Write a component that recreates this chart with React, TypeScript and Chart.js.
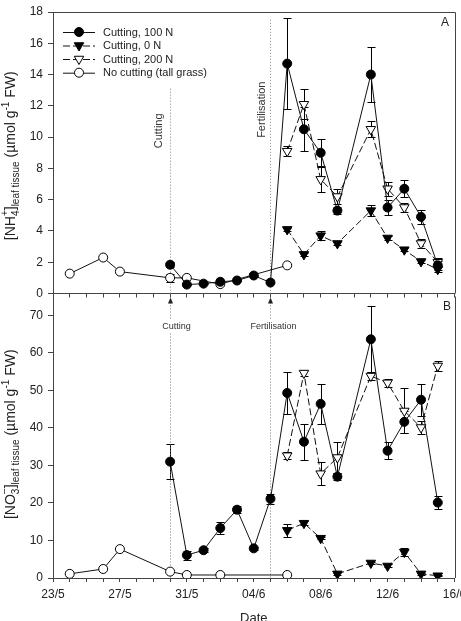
import React, { useEffect, useRef } from 'react';
import { Chart, registerables } from 'chart.js';
Chart.register(...registerables);

const FONT = "'Liberation Sans', Arial, Helvetica, sans-serif";
const AXIS = '#444';
const TXT = '#222';

// x axis: days since 23/5
const xTickLabels = ['23/5', '27/5', '31/5', '04/6', '08/6', '12/6', '16/6'];
const cuttingDay = 7;
const fertDay = 13;

const daysCut = [7, 8, 9, 10, 11, 12, 13, 14, 15, 16, 17, 19, 20, 21, 22, 23];
const daysFert = [14, 15, 16, 17, 19, 20, 21, 22, 23];
const daysTall = [1, 3, 4, 7, 8, 10, 14];

// Panel A: NH4+
const nh4Cut100 = [1.84, 0.57, 0.63, 0.75, 0.83, 1.15, 0.7, 14.7, 10.5, 9.0, 5.3, 14.0, 5.5, 6.7, 4.9, 1.8];
const nh4Cut100Err = [0.15, 0.05, 0.05, 0.05, 0.05, 0.05, 0.05, 2.9, 1.4, 0.85, 0.2, 1.75, 0.5, 0.55, 0.45, 0.3];
const nh4Cut0 = [4.1, 2.5, 3.7, 3.2, 5.3, 3.55, 2.8, 2.05, 1.55];
const nh4Cut0Err = [0.1, 0.1, 0.3, 0.1, 0.35, 0.1, 0.1, 0.1, 0.2];
const nh4Cut200 = [9.1, 12.1, 7.3, 6.2, 10.5, 6.7, 5.5, 3.2, 2.0];
const nh4Cut200Err = [0.3, 0.95, 0.8, 0.5, 0.5, 0.45, 0.3, 0.3, 0.3];
const nh4Tall = [1.27, 2.3, 1.4, 1.0, 1.0, 0.6, 1.8];
const nh4TallErr = [0, 0, 0, 0.25, 0, 0, 0];

// Panel B: NO3-
const no3Cut100 = [31.0, 6.1, 7.4, 13.3, 18.2, 7.9, 21.1, 49.3, 36.3, 46.4, 27.0, 63.6, 33.9, 41.6, 47.5, 20.1];
const no3Cut100Err = [4.7, 1.2, 0.6, 1.5, 1.0, 0.4, 1.3, 5.7, 4.8, 5.4, 1.0, 8.8, 2.3, 3.0, 4.3, 1.8];
const no3Cut0 = [12.7, 14.6, 10.6, 1.1, 4.0, 3.2, 6.9, 1.1, 0.6];
const no3Cut0Err = [1.8, 0.5, 0.3, 0.3, 0.3, 0.4, 1.0, 0.3, 0.2];
const no3Cut200 = [32.6, 54.6, 27.8, 32.1, 53.8, 52.0, 44.5, 40.1, 56.5];
const no3Cut200Err = [1.0, 0.8, 3.0, 4.2, 1.0, 1.0, 6.0, 1.7, 1.3];
const no3Tall = [1.1, 2.4, 7.7, 1.7, 0.8, 0.8, 0.8];

const seriesNames = ['Cutting, 100 N', 'Cutting, 0 N', 'Cutting, 200 N', 'No cutting (tall grass)'];

type Style = { fill: string; shape: 'circle' | 'triangle'; dash: number[] };
const styles: Style[] = [
  { fill: '#000', shape: 'circle', dash: [] },
  { fill: '#000', shape: 'triangle', dash: [7, 3] },
  { fill: '#fff', shape: 'triangle', dash: [7, 3] },
  { fill: '#fff', shape: 'circle', dash: [] },
];

function mk(i: number, days: number[], vals: number[], errs?: number[]) {
  const s = styles[i];
  return {
    label: seriesNames[i],
    data: days.map((d, k) => ({ x: d, y: vals[k] })),
    errors: errs,
    borderColor: '#111',
    borderWidth: 1,
    borderDash: s.dash,
    backgroundColor: s.fill,
    pointBackgroundColor: s.fill,
    pointBorderColor: '#000',
    pointBorderWidth: 1,
    pointStyle: s.shape,
    pointRotation: s.shape === 'triangle' ? 180 : 0,
    pointRadius: s.shape === 'triangle' ? 5.5 : 4.5,
    tension: 0,
    fill: false,
  };
}

const errorBars = {
  id: 'errorBars',
  beforeDatasetsDraw(chart: any) {
    const { ctx } = chart;
    const x = chart.scales.x, y = chart.scales.y;
    ctx.save();
    ctx.strokeStyle = '#000';
    ctx.lineWidth = 1;
    ctx.setLineDash([]);
    chart.data.datasets.forEach((ds: any) => {
      if (!ds.errors) return;
      ds.data.forEach((p: any, i: number) => {
        const e = ds.errors[i];
        if (!e) return;
        const px = Math.round(x.getPixelForValue(p.x)) + 0.5;
        const y1 = Math.round(y.getPixelForValue(p.y + e)) + 0.5;
        const y2 = Math.round(y.getPixelForValue(p.y - e)) + 0.5;
        ctx.beginPath();
        ctx.moveTo(px, y1); ctx.lineTo(px, y2);
        ctx.moveTo(px - 4, y1); ctx.lineTo(px + 4, y1);
        ctx.moveTo(px - 4, y2); ctx.lineTo(px + 4, y2);
        ctx.stroke();
      });
    });
    ctx.restore();
  },
};

type Seg = { t: string; k: 'n' | 'sub' | 'sup' | 'subsup'; t2?: string };
function drawRichVertical(ctx: CanvasRenderingContext2D, cx: number, cy: number, segs: Seg[], size: number) {
  const small = Math.round(size * 0.7);
  const fN = `${size}px ${FONT}`;
  const fS = `${small}px ${FONT}`;
  ctx.save();
  ctx.translate(cx, cy);
  ctx.rotate(-Math.PI / 2);
  ctx.fillStyle = TXT;
  ctx.textBaseline = 'alphabetic';
  ctx.textAlign = 'left';
  const w = (s: Seg) => {
    ctx.font = s.k === 'n' ? fN : fS;
    let a = ctx.measureText(s.t).width;
    if (s.t2) a = Math.max(a, ctx.measureText(s.t2).width);
    return a;
  };
  const total = segs.reduce((a, s) => a + w(s), 0);
  let x = -total / 2;
  const base = size * 0.35;
  for (const s of segs) {
    const ww = w(s);
    if (s.k === 'n') { ctx.font = fN; ctx.fillText(s.t, x, base); }
    else if (s.k === 'sub') { ctx.font = fS; ctx.fillText(s.t, x, base + size * 0.3); }
    else if (s.k === 'sup') { ctx.font = fS; ctx.fillText(s.t, x, base - size * 0.45); }
    else { ctx.font = fS; ctx.fillText(s.t, x, base + size * 0.3); ctx.fillText(s.t2 || '', x, base - size * 0.5); }
    x += ww;
  }
  ctx.restore();
}

function drawMarker(ctx: CanvasRenderingContext2D, st: Style, x: number, y: number) {
  ctx.beginPath();
  if (st.shape === 'circle') {
    ctx.arc(x, y, 4.5, 0, Math.PI * 2);
  } else {
    const r = 5.5;
    ctx.moveTo(x, y + r);
    ctx.lineTo(x - r * Math.sin(Math.PI / 3), y - r / 2);
    ctx.lineTo(x + r * Math.sin(Math.PI / 3), y - r / 2);
    ctx.closePath();
  }
  ctx.fillStyle = st.fill;
  ctx.fill();
  ctx.strokeStyle = '#000';
  ctx.lineWidth = 1;
  ctx.setLineDash([]);
  ctx.stroke();
}

function baseOptions(yMax: number, yStep: number, showX: boolean, xHeight: number, padTop: number): any {
  return {
    responsive: false,
    animation: false,
    devicePixelRatio: 1,
    events: [],
    layout: { padding: { top: padTop, right: 3, left: 0, bottom: 0 } },
    plugins: { legend: { display: false }, tooltip: { enabled: false }, title: { display: false } },
    scales: {
      x: {
        type: 'linear',
        min: 0,
        max: 24,
        ticks: {
          display: showX,
          stepSize: 1,
          autoSkip: false,
          maxRotation: 0,
          minRotation: 0,
          padding: 5,
          color: TXT,
          font: { family: FONT, size: 12 },
          callback: (v: number) => (v % 4 === 0 ? xTickLabels[v / 4] : ''),
        },
        grid: { drawOnChartArea: false, drawTicks: true, tickLength: 4, color: AXIS },
        border: { display: true, color: AXIS, width: 1 },
        afterFit: (s: any) => { s.height = xHeight; s.paddingLeft = 0; s.paddingRight = 0; },
      },
      y: {
        min: 0,
        max: yMax,
        afterBuildTicks: (s: any) => { s.ticks = s.ticks.filter((t: any) => t.value % yStep === 0); },
        ticks: { stepSize: yStep, color: TXT, padding: 5, font: { family: FONT, size: 12 } },
        grid: { drawOnChartArea: false, drawTicks: true, tickLength: 5, color: AXIS },
        border: { display: true, color: AXIS, width: 1 },
        afterFit: (s: any) => { s.width = 53; s.paddingTop = 0; s.paddingBottom = 0; },
      },
    },
  };
}

const topDecor = {
  id: 'topDecor',
  beforeDatasetsDraw(chart: any) {
    const { ctx, chartArea } = chart;
    const x = chart.scales.x, y = chart.scales.y;
    ctx.save();
    ctx.strokeStyle = '#888';
    ctx.lineWidth = 1;
    ctx.setLineDash([1, 2]);
    const xc = Math.round(x.getPixelForValue(cuttingDay)) + 0.5;
    const xf = Math.round(x.getPixelForValue(fertDay)) + 0.5;
    ctx.beginPath();
    ctx.moveTo(xc, y.getPixelForValue(13.1)); ctx.lineTo(xc, chartArea.bottom);
    ctx.moveTo(xf, y.getPixelForValue(17.5)); ctx.lineTo(xf, chartArea.bottom);
    ctx.stroke();
    ctx.setLineDash([]);
    ctx.fillStyle = '#333';
    ctx.font = `11px ${FONT}`;
    ctx.textAlign = 'center';
    ctx.textBaseline = 'middle';
    ctx.save(); ctx.translate(xc - 12, y.getPixelForValue(10.4)); ctx.rotate(-Math.PI / 2); ctx.fillText('Cutting', 0, 0); ctx.restore();
    ctx.save(); ctx.translate(xf - 9, y.getPixelForValue(11.75)); ctx.rotate(-Math.PI / 2); ctx.fillText('Fertilisation', 0, 0); ctx.restore();
    ctx.restore();
  },
  afterDraw(chart: any) {
    const { ctx, chartArea } = chart;
    ctx.save();
    // box
    ctx.strokeStyle = AXIS;
    ctx.lineWidth = 1;
    ctx.beginPath();
    ctx.moveTo(chartArea.left, Math.round(chartArea.top) + 0.5);
    ctx.lineTo(Math.round(chartArea.right) + 0.5, Math.round(chartArea.top) + 0.5);
    ctx.lineTo(Math.round(chartArea.right) + 0.5, chartArea.bottom);
    ctx.stroke();
    // legend
    const rows = [32, 45.5, 59, 72.7];
    ctx.font = `11px ${FONT}`;
    ctx.textBaseline = 'middle';
    ctx.textAlign = 'left';
    rows.forEach((ry, i) => {
      const st = styles[i];
      ctx.strokeStyle = '#111';
      ctx.lineWidth = 1;
      ctx.setLineDash(st.dash);
      ctx.beginPath();
      ctx.moveTo(63, ry + 0.5); ctx.lineTo(95, ry + 0.5);
      ctx.stroke();
      drawMarker(ctx, st, 79, ry);
      ctx.fillStyle = TXT;
      ctx.fillText(seriesNames[i], 103, ry + 0.5);
    });
    // panel label
    ctx.font = `12px ${FONT}`;
    ctx.textAlign = 'center';
    ctx.fillStyle = TXT;
    ctx.fillText('A', 445, 23);
    // y title
    drawRichVertical(ctx, 10, (chartArea.top + chartArea.bottom) / 2 + 3, [
      { t: '[NH', k: 'n' }, { t: '4', k: 'subsup', t2: '+' }, { t: ']', k: 'n' },
      { t: 'leaf tissue', k: 'sub' }, { t: ' (µmol g', k: 'n' }, { t: '-1', k: 'sup' }, { t: ' FW)', k: 'n' },
    ], 14);
    ctx.restore();
  },
};

const bottomDecor = {
  id: 'bottomDecor',
  beforeDatasetsDraw(chart: any) {
    const { ctx, chartArea } = chart;
    const x = chart.scales.x;
    ctx.save();
    const items = [
      { d: cuttingDay, label: 'Cutting', off: 6 },
      { d: fertDay, label: 'Fertilisation', off: 3 },
    ];
    const top = chartArea.top;
    items.forEach((it) => {
      const px = Math.round(x.getPixelForValue(it.d)) + 0.5;
      ctx.strokeStyle = '#777';
      ctx.lineWidth = 1;
      ctx.setLineDash([1, 2]);
      ctx.beginPath();
      ctx.moveTo(px, top + 6); ctx.lineTo(px, top + 23);
      ctx.moveTo(px, top + 37); ctx.lineTo(px, chartArea.bottom);
      ctx.stroke();
      ctx.setLineDash([]);
      ctx.fillStyle = '#222';
      ctx.beginPath();
      ctx.moveTo(px, top + 1);
      ctx.lineTo(px - 2.5, top + 7);
      ctx.lineTo(px + 2.5, top + 7);
      ctx.closePath();
      ctx.fill();
      ctx.fillStyle = '#333';
      ctx.font = `9px ${FONT}`;
      ctx.textAlign = 'center';
      ctx.textBaseline = 'middle';
      ctx.fillText(it.label, px + it.off, top + 30.5);
    });
    ctx.restore();
  },
  afterDraw(chart: any) {
    const { ctx, chartArea } = chart;
    ctx.save();
    ctx.strokeStyle = AXIS;
    ctx.lineWidth = 1;
    ctx.beginPath();
    ctx.moveTo(Math.round(chartArea.right) + 0.5, chartArea.top);
    ctx.lineTo(Math.round(chartArea.right) + 0.5, chartArea.bottom);
    ctx.stroke();
    ctx.fillStyle = TXT;
    ctx.font = `12px ${FONT}`;
    ctx.textAlign = 'center';
    ctx.textBaseline = 'middle';
    ctx.fillText('B', 447, 307 - 290);
    ctx.font = `13px ${FONT}`;
    ctx.textBaseline = 'alphabetic';
    ctx.fillText('Date', (chartArea.left + chartArea.right) / 2, 622 - 290);
    drawRichVertical(ctx, 10, (chartArea.top + chartArea.bottom) / 2 - 3, [
      { t: '[NO', k: 'n' }, { t: '3', k: 'subsup', t2: '−' }, { t: ']', k: 'n' },
      { t: 'leaf tissue', k: 'sub' }, { t: ' (µmol g', k: 'n' }, { t: '-1', k: 'sup' }, { t: ' FW)', k: 'n' },
    ], 14);
    ctx.restore();
  },
};

export default function App() {
  const topRef = useRef<HTMLCanvasElement>(null);
  const botRef = useRef<HTMLCanvasElement>(null);

  useEffect(() => {
    document.body.style.margin = '0';
    const top = new Chart(topRef.current as HTMLCanvasElement, {
      type: 'line',
      data: {
        datasets: [
          mk(0, daysCut, nh4Cut100, nh4Cut100Err),
          mk(1, daysFert, nh4Cut0, nh4Cut0Err),
          mk(2, daysFert, nh4Cut200, nh4Cut200Err),
          mk(3, daysTall, nh4Tall, nh4TallErr),
        ] as any,
      },
      options: baseOptions(18, 2, false, 5, 12),
      plugins: [errorBars, topDecor],
    });
    const bot = new Chart(botRef.current as HTMLCanvasElement, {
      type: 'line',
      data: {
        datasets: [
          mk(0, daysCut, no3Cut100, no3Cut100Err),
          mk(1, daysFert, no3Cut0, no3Cut0Err),
          mk(2, daysFert, no3Cut200, no3Cut200Err),
          mk(3, daysTall, no3Tall),
        ] as any,
      },
      options: baseOptions(75, 10, true, 43, 5),
      plugins: [errorBars, bottomDecor],
    });
    return () => { top.destroy(); bot.destroy(); };
  }, []);

  return (
    <div style={{ position: 'absolute', left: 0, top: 0, width: 461, height: 621, overflow: 'hidden', background: '#fff' }}>
      <canvas ref={botRef} width={461} height={331} style={{ position: 'absolute', left: 0, top: 290, width: 461, height: 331 }} />
      <canvas ref={topRef} width={461} height={300} style={{ position: 'absolute', left: 0, top: 0, width: 461, height: 300 }} />
    </div>
  );
}
